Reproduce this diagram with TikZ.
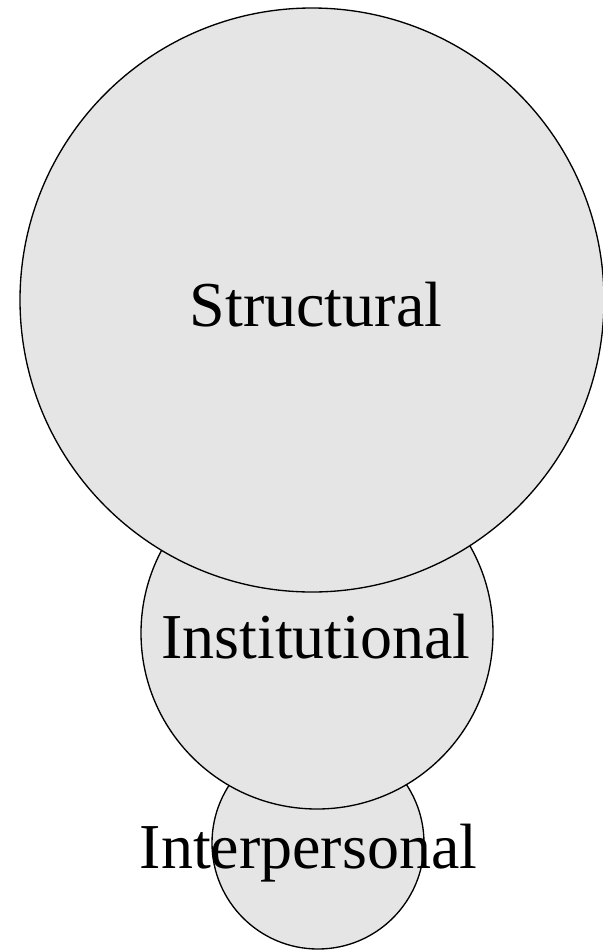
\documentclass[tikz,border=0pt]{standalone}
\usepackage{fontspec}
\setmainfont{Liberation Serif}
\definecolor{ringgray}{RGB}{229,229,229}

\begin{document}
\begin{tikzpicture}[
        x=0.75pt, y=-0.75pt,
        ring/.style={draw, circle, fill=ringgray, line width=1pt, inner sep=0pt},
        word/.style={anchor=base, inner sep=0pt, font=\fontsize{48}{48}\selectfont}
      ]
      \useasboundingbox (0,0) rectangle (603,951);

      % smallest circle first, the larger ones lie over it
      \node[ring, minimum size=159pt] (interpersonal) at (318,843) {};
      \node[word] (interpersonal text) at (308.5,868) {Interpersonal};

      \node[ring, minimum size=264pt] (institutional) at (317,633) {};
      \node[word] (institutional text) at (316,658) {Institutional};

      \node[ring, minimum size=438pt] (structural) at (312,300) {};
      \node[word] (structural text) at (316,326) {Structural};

\end{tikzpicture}
\end{document}
